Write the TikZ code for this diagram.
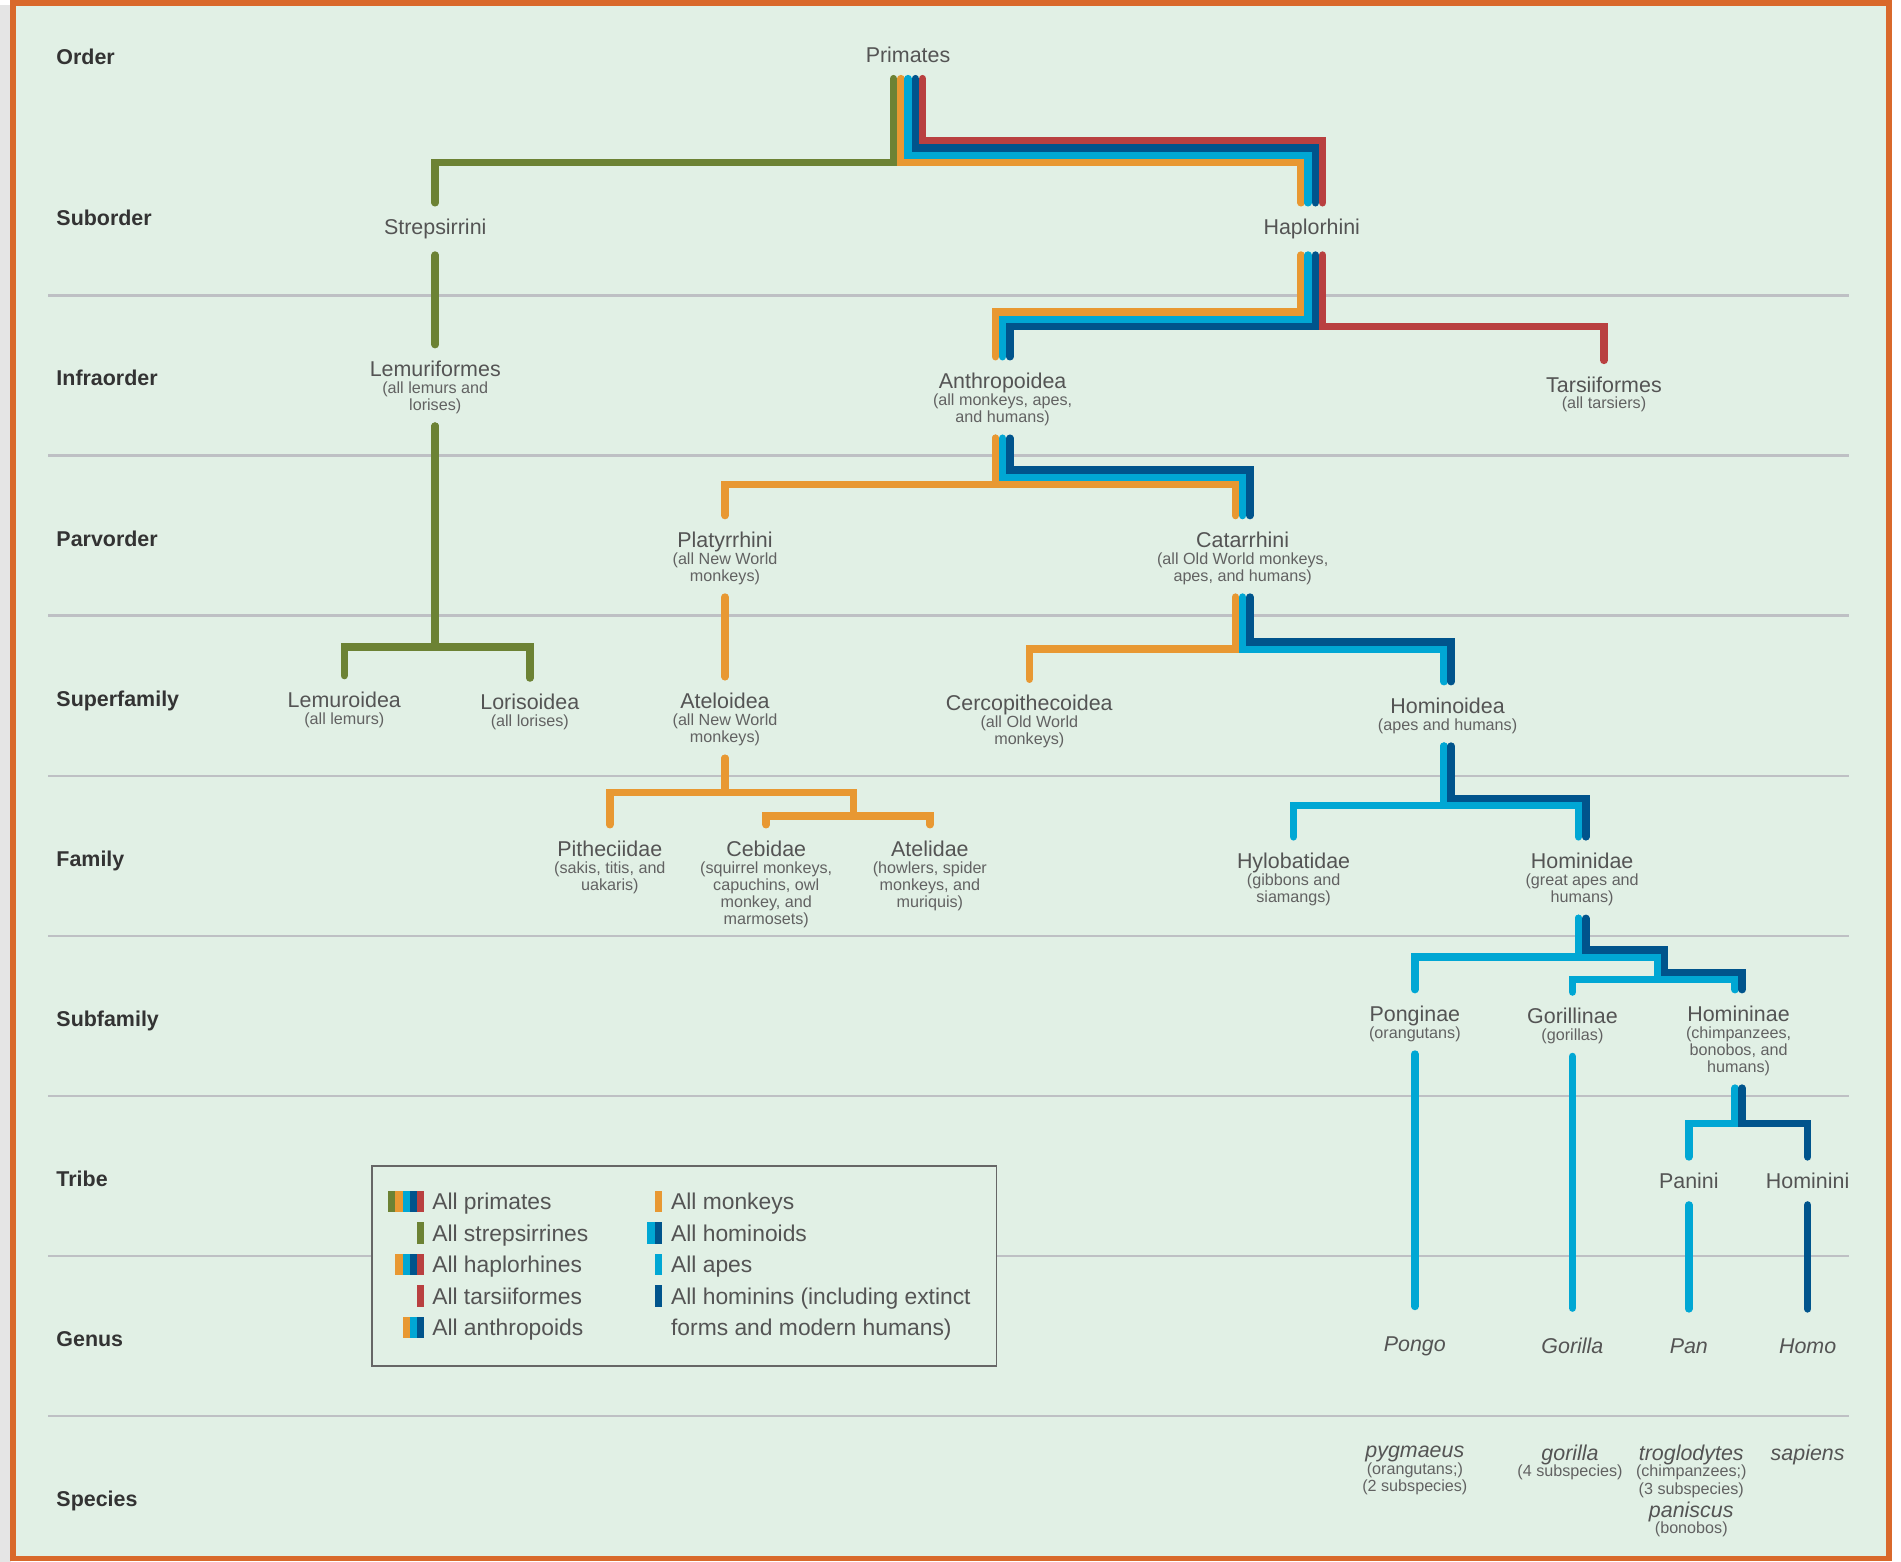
\documentclass[tikz,border=0pt]{standalone}
\usepackage{fontspec}
\setmainfont{Liberation Sans}
\usetikzlibrary{positioning}

\definecolor{bgc}{RGB}{225,240,229}
\definecolor{framec}{RGB}{217,105,43}
\definecolor{grnc}{RGB}{108,130,52}
\definecolor{ornc}{RGB}{232,152,50}
\definecolor{cync}{RGB}{0,167,212}
\definecolor{dblc}{RGB}{0,84,140}
\definecolor{redc}{RGB}{185,64,64}
\definecolor{txtc}{RGB}{84,84,84}
\definecolor{subc}{RGB}{98,98,98}
\definecolor{rulec}{RGB}{190,192,196}

\newcommand{\bgap}{2.07pt}
\newcommand{\namefont}{\fontsize{6.1}{7}\selectfont}
\newcommand{\subfont}{\fontsize{4.6}{4.85}\selectfont}

\begin{document}
\begin{tikzpicture}[x=0.012124cm, y=-0.012124cm,
        rank/.style={anchor=base west, yshift=-2.2pt, inner sep=0pt, font=\namefont\bfseries, text=black!80},
        taxon/.style={anchor=base, yshift=-2.2pt, inner xsep=0pt, inner ysep=0pt, outer ysep=4.6pt, font=\namefont, text=txtc},
        genus/.style={taxon, outer ysep=8.5pt, font=\namefont\itshape},
        subtx/.style={inner sep=0pt, outer ysep=3.6pt, align=center, font=\subfont, text=subc},
        legtx/.style={anchor=base west, yshift=-2.3pt, inner sep=0pt, font=\fontsize{6.5}{7.5}\selectfont, text=txtc},
        br/.style={line width=2.14pt, line cap=round},
        grn/.style={br, grnc}, orn/.style={br, ornc}, cyn/.style={br, cync},
        dbl/.style={br, dblc}, rd/.style={br, redc},
        sep/.style={rulec, line width=0.8pt}]
            \useasboundingbox (0,0) rectangle (1568,1288);
            \fill[white]    (0,0)     rectangle (1568,1288);
            \fill[black!10] (0,4)     rectangle (9,1288);
            \draw[framec, line width=1.6pt, fill=bgc] (10.5,2.3) rectangle (1558,1285.5);

            \draw[sep] (40,244)  -- (1525,244);
            \draw[sep] (40,376)  -- (1525,376);
            \draw[sep] (40,508)  -- (1525,508);
            \draw[sep] (40,640)  -- (1525,640);
            \draw[sep] (40,772)  -- (1525,772);
            \draw[sep] (40,904)  -- (1525,904);
            \draw[sep] (40,1036) -- (1525,1036);
            \draw[sep] (40,1168) -- (1525,1168);

            \node[rank] (order)    at (46,47)   {Order};
            \node[rank] (suborder) at (46,180)  {Suborder};
            \node[rank] (infra)    at (46,312)  {Infraorder};
            \node[rank] (parv)     at (46,444)  {Parvorder};
            \node[rank] (superf)   at (46,576)  {Superfamily};
            \node[rank] (family)   at (46,708)  {Family};
            \node[rank] (subfam)   at (46,840)  {Subfamily};
            \node[rank] (tribe)    at (46,972)  {Tribe};
            \node[rank] (genusr)   at (46,1104) {Genus};
            \node[rank] (species)  at (46,1236) {Species};

            \node[taxon] (prim)   at (749,45)   {Primates};
            \node[taxon] (strep)  at (359,187)  {Strepsirrini};
            \node[taxon] (haplo)  at (1082,187) {Haplorhini};

            \node[taxon] (lemf)   at (359,304)  {Lemuriformes};
            \node[subtx, below=-2.15pt of lemf.base]   (lemfs)   {(all lemurs and\\lorises)};
            \node[taxon] (anth)   at (827,314)  {Anthropoidea};
            \node[subtx, below=-2.15pt of anth.base]   (anths)   {(all monkeys, apes,\\and humans)};
            \node[taxon] (tars)   at (1323,317) {Tarsiiformes};
            \node[subtx, below=-2.15pt of tars.base]   (tarss)   {(all tarsiers)};

            \node[taxon] (platy)  at (598,445)  {Platyrrhini};
            \node[subtx, below=-2.15pt of platy.base]  (platys)  {(all New World\\monkeys)};
            \node[taxon] (catar)  at (1025,445) {Catarrhini};
            \node[subtx, below=-2.15pt of catar.base]  (catars)  {(all Old World monkeys,\\apes, and humans)};

            \node[taxon] (lemur)  at (284,577)  {Lemuroidea};
            \node[subtx, below=-2.15pt of lemur.base]  (lemurs)  {(all lemurs)};
            \node[taxon] (loris)  at (437,579)  {Lorisoidea};
            \node[subtx, below=-2.15pt of loris.base]  (loriss)  {(all lorises)};
            \node[taxon] (atel)   at (598,578)  {Ateloidea};
            \node[subtx, below=-2.15pt of atel.base]   (atels)   {(all New World\\monkeys)};
            \node[taxon] (cerco)  at (849,580)  {Cercopithecoidea};
            \node[subtx, below=-2.15pt of cerco.base]  (cercos)  {(all Old World\\monkeys)};
            \node[taxon] (homoid) at (1194,582) {Hominoidea};
            \node[subtx, below=-2.15pt of homoid.base] (homoids) {(apes and humans)};

            \node[taxon] (pith)   at (503,700)  {Pitheciidae};
            \node[subtx, below=-2.15pt of pith.base]   (piths)   {(sakis, titis, and\\uakaris)};
            \node[taxon] (cebid)  at (632,700)  {Cebidae};
            \node[subtx, below=-2.15pt of cebid.base]  (cebids)  {(squirrel monkeys,\\capuchins, owl\\monkey, and\\marmosets)};
            \node[taxon] (ateli)  at (767,700)  {Atelidae};
            \node[subtx, below=-2.15pt of ateli.base]  (atelis)  {(howlers, spider\\monkeys, and\\muriquis)};
            \node[taxon] (hylo)   at (1067,710) {Hylobatidae};
            \node[subtx, below=-2.15pt of hylo.base]   (hylos)   {(gibbons and\\siamangs)};
            \node[taxon] (homid)  at (1305,710) {Hominidae};
            \node[subtx, below=-2.15pt of homid.base]  (homids)  {(great apes and\\humans)};

            \node[taxon] (pong)   at (1167,836) {Ponginae};
            \node[subtx, below=-2.15pt of pong.base]   (pongs)   {(orangutans)};
            \node[taxon] (goril)  at (1297,838) {Gorillinae};
            \node[subtx, below=-2.15pt of goril.base]  (gorils)  {(gorillas)};
            \node[taxon] (homin)  at (1434,836) {Homininae};
            \node[subtx, below=-2.15pt of homin.base]  (homins)  {(chimpanzees,\\bonobos, and\\humans)};

            \node[taxon] (pani)   at (1393,974) {Panini};
            \node[taxon] (homini) at (1491,974) {Hominini};

            \node[genus] (pongo)   at (1167,1108) {Pongo};
            \node[genus] (gorilla) at (1297,1110) {Gorilla};
            \node[genus] (pan)     at (1393,1110) {Pan};
            \node[genus] (homo)    at (1491,1110) {Homo};

            \node[genus] (pygm)   at (1167,1196) {pygmaeus};
            \node[subtx, below=-2.15pt of pygm.base]   (pygms)   {(orangutans;)\\(2 subspecies)};
            \node[genus] (gorsp)  at (1295,1198) {gorilla};
            \node[subtx, below=-2.15pt of gorsp.base]  (gorsps)  {(4 subspecies)};
            \node[genus] (trog)   at (1395,1198) {troglodytes};
            \node[subtx, below=-2.15pt of trog.base]   (trogs)   {(chimpanzees;)\\(3 subspecies)};
            \node[genus] (panis)  at (1395,1245) {paniscus};
            \node[subtx, below=-2.15pt of panis.base]  (paniss)  {(bonobos)};
            \node[genus] (sapi)   at (1491,1198) {sapiens};

            \draw[grn] ([xshift=-2*\bgap]prim.south) -- ++(0,69) -| (strep.north);
            \draw[orn] ([xshift=-\bgap]prim.south)   -- ++(0,69) -| ([xshift=-1.5*\bgap]haplo.north);
            \draw[cyn] (prim.south)                   -- ++(0,63) -| ([xshift=-0.5*\bgap]haplo.north);
            \draw[dbl] ([xshift=\bgap]prim.south)    -- ++(0,57) -| ([xshift=0.5*\bgap]haplo.north);
            \draw[rd]  ([xshift=2*\bgap]prim.south)  -- ++(0,51) -| ([xshift=1.5*\bgap]haplo.north);

            \draw[grn] (strep.south) -- (strep.south |- lemf.north);
            \draw[grn] (lemfs.south) -- ++(0,182) -| (lemur.north);
            \draw[grn] (lemfs.south) -- ++(0,182) -| (loris.north);

            \draw[orn] ([xshift=-1.5*\bgap]haplo.south) -- ++(0,47) -| ([xshift=-\bgap]anth.north);
            \draw[cyn] ([xshift=-0.5*\bgap]haplo.south) -- ++(0,53) -| (anth.north);
            \draw[dbl] ([xshift=0.5*\bgap]haplo.south)  -- ++(0,59) -| ([xshift=\bgap]anth.north);
            \draw[rd]  ([xshift=1.5*\bgap]haplo.south)  -- ++(0,59) -| (tars.north);

            \draw[orn] ([xshift=-\bgap]anths.south) -- ++(0,38) -| (platy.north);
            \draw[orn] ([xshift=-\bgap]anths.south) -- ++(0,38) -| ([xshift=-\bgap]catar.north);
            \draw[cyn] (anths.south)                 -- ++(0,32) -| (catar.north);
            \draw[dbl] ([xshift=\bgap]anths.south)  -- ++(0,26) -| ([xshift=\bgap]catar.north);

            \draw[orn] (platys.south) -- (platys.south |- atel.north);

            \draw[orn] ([xshift=-\bgap]catars.south) -- ++(0,43) -| (cerco.north);
            \draw[cyn] (catars.south)                 -- ++(0,43) -| ([xshift=-0.5*\bgap]homoid.north);
            \draw[dbl] ([xshift=\bgap]catars.south)  -- ++(0,37) -| ([xshift=0.5*\bgap]homoid.north);

            \coordinate (cebj) at (704,673);
            \draw[orn] (atels.south) -- ++(0,28) -| (pith.north);
            \draw[orn] (atels.south) -- ++(0,28) -| (cebj) -| (cebid.north);
            \draw[orn] (cebj) -| (ateli.north);

            \draw[cyn] ([xshift=-0.5*\bgap]homoids.south) -- ++(0,49) -| (hylo.north);
            \draw[cyn] ([xshift=-0.5*\bgap]homoids.south) -- ++(0,49) -| ([xshift=-0.5*\bgap]homid.north);
            \draw[dbl] ([xshift=0.5*\bgap]homoids.south)  -- ++(0,43) -| ([xshift=0.5*\bgap]homid.north);

            \coordinate (gorj) at (1367,808);
            \coordinate (homj) at (1373,802);
            \draw[cyn] ([xshift=-0.5*\bgap]homids.south) -- ++(0,32) -| (pong.north);
            \draw[cyn] ([xshift=-0.5*\bgap]homids.south) -- ++(0,32) -| (gorj) -| (goril.north);
            \draw[cyn] (gorj) -| ([xshift=-0.5*\bgap]homin.north);
            \draw[dbl] ([xshift=0.5*\bgap]homids.south)  -- ++(0,26) -| (homj) -| ([xshift=0.5*\bgap]homin.north);

            \draw[cyn] ([xshift=-0.5*\bgap]homins.south) -- ++(0,29) -| (pani.north);
            \draw[dbl] ([xshift=0.5*\bgap]homins.south)  -- ++(0,29) -| (homini.north);

            \draw[cyn] (pongs.south)  -- (pongs.south |- pongo.north);
            \draw[cyn] (gorils.south) -- (gorils.south |- gorilla.north);
            \draw[cyn] (pani.south)   -- (pani.south |- pan.north);
            \draw[dbl] (homini.south) -- (homini.south |- homo.north);

            \draw[black!60, line width=0.5pt, fill=bgc] (307,962) rectangle (822,1127);

            \fill[grnc] (320,982)  rectangle (326,1000);
            \fill[ornc] (326,982)  rectangle (332,1000);
            \fill[cync] (332,982)  rectangle (338,1000);
            \fill[dblc] (338,982)  rectangle (344,1000);
            \fill[redc] (344,982)  rectangle (350,1000);
            \fill[grnc] (344,1008) rectangle (350,1026);
            \fill[ornc] (326,1034) rectangle (332,1052);
            \fill[cync] (332,1034) rectangle (338,1052);
            \fill[dblc] (338,1034) rectangle (344,1052);
            \fill[redc] (344,1034) rectangle (350,1052);
            \fill[redc] (344,1060) rectangle (350,1078);
            \fill[ornc] (332,1086) rectangle (338,1104);
            \fill[cync] (338,1086) rectangle (344,1104);
            \fill[dblc] (344,1086) rectangle (350,1104);
            \fill[ornc] (540,982)  rectangle (546,1000);
            \fill[cync] (534,1008) rectangle (540,1026);
            \fill[dblc] (540,1008) rectangle (546,1026);
            \fill[cync] (540,1034) rectangle (546,1052);
            \fill[dblc] (540,1060) rectangle (546,1078);

            \node[legtx] (lgprim)  at (356,991)  {All primates};
            \node[legtx] (lgstrep) at (356,1017) {All strepsirrines};
            \node[legtx] (lghaplo) at (356,1043) {All haplorhines};
            \node[legtx] (lgtars)  at (356,1069) {All tarsiiformes};
            \node[legtx] (lganth)  at (356,1095) {All anthropoids};
            \node[legtx] (lgmonk)  at (553,991)  {All monkeys};
            \node[legtx] (lghomd)  at (553,1017) {All hominoids};
            \node[legtx] (lgapes)  at (553,1043) {All apes};
            \node[legtx] (lghomn)  at (553,1069) {All hominins (including extinct};
            \node[legtx] (lghomn2) at (553,1095) {forms and modern humans)};
        \end{tikzpicture}
\end{document}
